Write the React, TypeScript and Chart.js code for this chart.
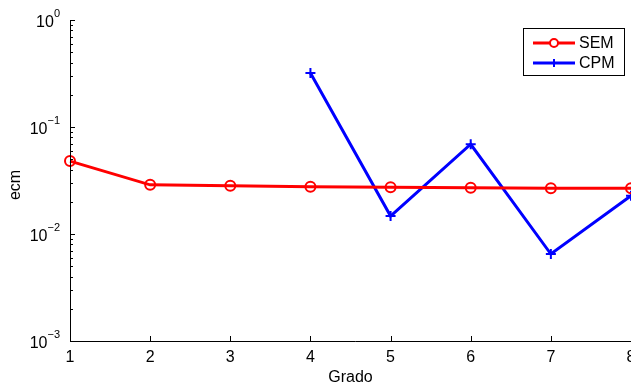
import React, { useEffect, useRef } from "react";
import { Chart, registerables } from "chart.js";

Chart.register(...registerables);

const grados = [1, 2, 3, 4, 5, 6, 7, 8];
const semValues = [0.048, 0.0288, 0.0282, 0.0276, 0.0273, 0.027, 0.0268, 0.0268];
const cpmGrados = [4, 5, 6, 7, 8];
const cpmValues = [0.32, 0.0147, 0.069, 0.0065, 0.0228];
const yDecades = [-3, -2, -1, 0];
const xTicks = [1, 2, 3, 4, 5, 6, 7, 8];
const xTitle = "Grado";
const yTitle = "ecm";

const FONT = '"Liberation Sans", Arial, Helvetica, sans-serif';

const axesPlugin = {
  id: "matlabAxes",
  afterDraw(chart: any) {
    const ctx = chart.ctx;
    const { left, right, top, bottom } = chart.chartArea;
    const xs = chart.scales.x;
    const ys = chart.scales.y;
    ctx.save();
    ctx.strokeStyle = "#000";
    ctx.lineWidth = 1;
    ctx.beginPath();
    ctx.moveTo(Math.round(left) + 0.5, top);
    ctx.lineTo(Math.round(left) + 0.5, Math.round(bottom) + 0.5);
    ctx.lineTo(right + 10, Math.round(bottom) + 0.5);
    ctx.stroke();
    // y ticks
    ctx.beginPath();
    for (const d of yDecades) {
      const y = Math.round(ys.getPixelForValue(Math.pow(10, d))) + 0.5;
      ctx.moveTo(left, y);
      ctx.lineTo(left + 5, y);
      if (d < 0) {
        for (let m = 2; m <= 9; m++) {
          const ym = Math.round(ys.getPixelForValue(m * Math.pow(10, d))) + 0.5;
          ctx.moveTo(left, ym);
          ctx.lineTo(left + 3, ym);
        }
      }
    }
    for (const t of xTicks) {
      const x = Math.round(xs.getPixelForValue(t)) + 0.5;
      ctx.moveTo(x, bottom);
      ctx.lineTo(x, bottom - 5);
    }
    ctx.stroke();
    // y labels
    ctx.fillStyle = "#000";
    for (const d of yDecades) {
      const y = ys.getPixelForValue(Math.pow(10, d));
      const exp = d < 0 ? "\u2212" + Math.abs(d) : String(d);
      ctx.font = "11px " + FONT;
      const ew = ctx.measureText(exp).width;
      ctx.font = "16px " + FONT;
      const bw = ctx.measureText("10").width;
      const rightEdge = 60;
      ctx.textAlign = "left";
      ctx.textBaseline = "alphabetic";
      ctx.fillText("10", rightEdge - ew - bw, y + 7);
      ctx.font = "11px " + FONT;
      ctx.fillText(exp, rightEdge - ew, y - 3);
    }
    // x labels
    ctx.font = "16px " + FONT;
    ctx.textAlign = "center";
    ctx.textBaseline = "alphabetic";
    for (const t of xTicks) {
      ctx.fillText(String(t), xs.getPixelForValue(t), 362);
    }
    ctx.fillText(xTitle, (left + right) / 2, 382);
    ctx.save();
    ctx.translate(20, 185);
    ctx.rotate(-Math.PI / 2);
    ctx.fillText(yTitle, 0, 0);
    ctx.restore();
    // legend
    ctx.fillStyle = "#fff";
    ctx.fillRect(523, 28, 101, 47);
    ctx.strokeStyle = "#000";
    ctx.lineWidth = 1;
    ctx.strokeRect(523.5, 28.5, 101, 47);
    const rows = chart.data.datasets.map((ds: any, i: number) => ({ ds, y: 43 + i * 20 }));
    for (const { ds, y } of rows) {
      ctx.strokeStyle = ds.borderColor;
      ctx.lineWidth = 3;
      ctx.beginPath();
      ctx.moveTo(533, y);
      ctx.lineTo(575, y);
      ctx.stroke();
      ctx.lineWidth = 2;
      ctx.beginPath();
      if (ds.pointStyle === "circle") {
        ctx.fillStyle = "#fff";
        ctx.arc(554, y, 4, 0, Math.PI * 2);
        ctx.fill();
        ctx.stroke();
      } else {
        ctx.moveTo(550, y);
        ctx.lineTo(558, y);
        ctx.moveTo(554, y - 4);
        ctx.lineTo(554, y + 4);
        ctx.stroke();
      }
      ctx.fillStyle = "#000";
      ctx.font = "16px " + FONT;
      ctx.textAlign = "left";
      ctx.textBaseline = "middle";
      ctx.fillText(ds.label, 579, y + 1);
    }
    ctx.restore();
  },
};

export default function App() {
  const ref = useRef<HTMLCanvasElement | null>(null);
  useEffect(() => {
    if (!ref.current) return;
    const chart = new Chart(ref.current, {
      type: "line",
      data: {
        datasets: [
          {
            label: "SEM",
            data: grados.map((g, i) => ({ x: g, y: semValues[i] })),
            borderColor: "#ff0000",
            backgroundColor: "#ffffff",
            borderWidth: 3,
            pointStyle: "circle",
            pointRadius: 5,
            pointBorderWidth: 2,
            pointBackgroundColor: "rgba(255,255,255,0)",
            pointBorderColor: "#ff0000",
            clip: false,
          },
          {
            label: "CPM",
            data: cpmGrados.map((g, i) => ({ x: g, y: cpmValues[i] })),
            borderColor: "#0000ff",
            backgroundColor: "#0000ff",
            borderWidth: 3,
            pointStyle: "cross",
            pointRadius: 5,
            pointBorderWidth: 2,
            pointBorderColor: "#0000ff",
            clip: false,
          },
        ],
      },
      options: {
        animation: false,
        responsive: false,
        maintainAspectRatio: false,
        layout: { padding: { left: 8, right: 9, top: 20, bottom: 0 } },
        plugins: { legend: { display: false }, tooltip: { enabled: false } },
        scales: {
          x: {
            type: "linear",
            min: 1,
            max: 8,
            grid: { display: false },
            border: { display: false },
            ticks: { display: false, stepSize: 1 },
            afterFit: (s: any) => {
              s.height = 45;
            },
          },
          y: {
            type: "logarithmic",
            min: 0.001,
            max: 1,
            grid: { display: false },
            border: { display: false },
            ticks: { display: false },
            afterFit: (s: any) => {
              s.width = 62;
            },
          },
        },
      },
      plugins: [axesPlugin],
    });
    return () => chart.destroy();
  }, []);
  return (
    <div style={{ position: "fixed", left: 0, top: 0, width: 640, height: 386, background: "#fff" }}>
      <canvas ref={ref} width={640} height={386} style={{ display: "block" }} />
    </div>
  );
}
